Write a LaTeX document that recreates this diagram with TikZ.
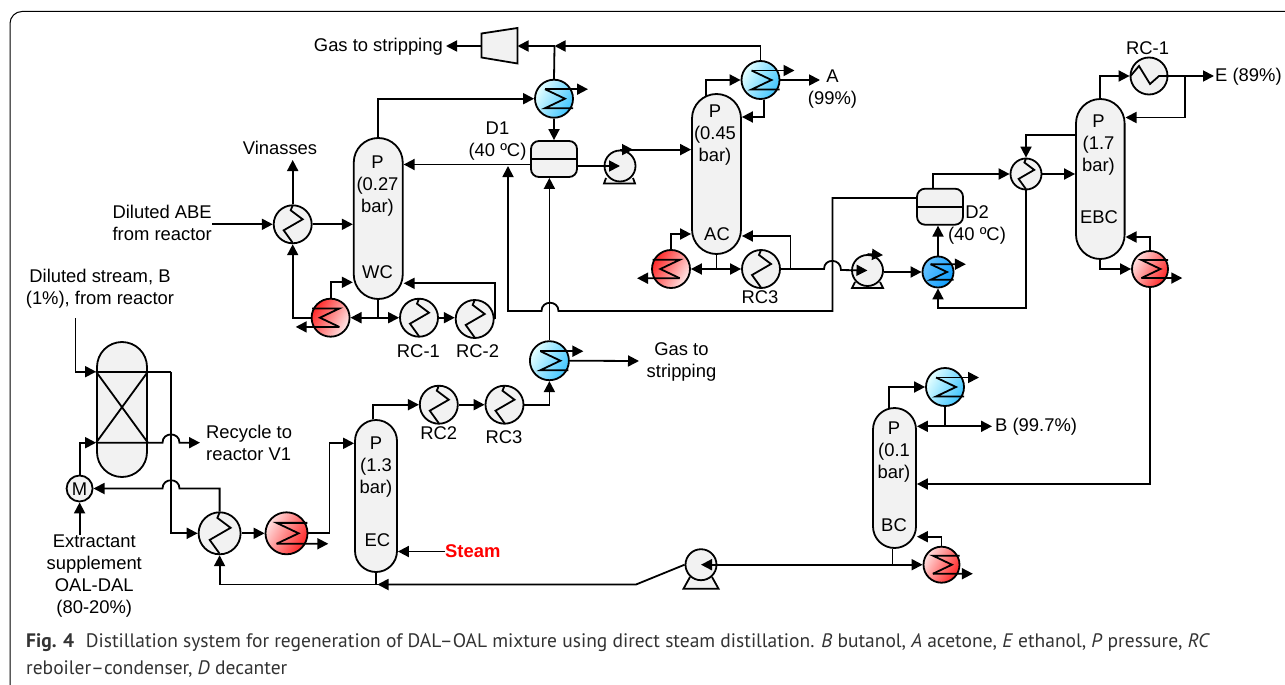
\documentclass[tikz,border=0pt]{standalone}
\usepackage{fontspec}
\setmainfont{Liberation Sans}
\newfontfamily\capfont{PT Sans}
\usetikzlibrary{calc, arrows.meta}
\definecolor{boxgray}{HTML}{F2F2F2}
\definecolor{capgray}{HTML}{333333}
\tikzset{
	pipe/.style={line width=1.8pt},
	flow/.style={line width=1.8pt, -{Triangle[length=11pt,width=11pt]}},
	flowboth/.style={line width=1.8pt, {Triangle[length=11pt,width=11pt]}-{Triangle[length=11pt,width=11pt]}},
	unit/.style={draw, line width=1.8pt, fill=boxgray, inner sep=0pt},
	column/.style={unit, rectangle, rounded corners=#1, minimum width=2*#1},
	decanter/.style={unit, rectangle, rounded corners=8pt, minimum width=46pt, minimum height=36pt},
	exch/.style={unit, circle, minimum size=2*#1},
	coolA/.style={draw, line width=1.8pt, circle, inner sep=0pt, minimum size=38pt, left color=blue!0!cyan!10!white, right color=cyan!70!blue!75!white, shading angle=60},
	coolB/.style={draw, line width=1.8pt, circle, inner sep=0pt, minimum size=31pt, left color=cyan!60!blue!60!white, right color=cyan!60!blue!95!white, shading angle=60},
	heatA/.style={draw, line width=1.8pt, circle, inner sep=0pt, minimum size=2*#1, left color=red!12!white, right color=red!85!white, shading angle=60},
	heatB/.style={draw, line width=1.8pt, circle, inner sep=0pt, minimum size=38pt, left color=red!85!white, right color=red!8!white, shading angle=60},
	txt/.style={inner sep=0pt, align=center, yshift=-0.5pt, font=\fontsize{18.4}{22}\selectfont}
}

\begin{document}
\begin{tikzpicture}[x=1pt, y=-1pt]
	\useasboundingbox (0,0) rectangle (1285,685);
	\fill[white] (0,0) rectangle (1285,685);
	\draw[line width=1pt, rounded corners=12pt] (1285,11.5) -- (10,11.5) -- (10,685);

	\node[column=24.5pt, minimum height=161pt] (wc) at (378.25,218.5) {};
	\node[column=24.5pt, minimum height=160pt] (ac) at (716.5,174) {};
	\node[column=24.3pt, minimum height=160pt] (ebc) at (1100.3,179) {};
	\node[column=21pt, minimum height=152pt] (ec) at (376,496) {};
	\node[column=21.5pt, minimum height=140pt] (bc) at (894.5,478) {};
	\node[column=25pt, minimum height=135pt] (ext) at (122,409.5) {};
	\draw[line width=1.8pt] (ext.west |- 0,371.7) -- (ext.east |- 0,442.7);
	\draw[line width=1.8pt] (ext.east |- 0,371.7) -- (ext.west |- 0,442.7);

	\node[decanter] (dA) at (554,159) {};
	\node[decanter] (dB) at (940,206.7) {};
	\draw[line width=1.8pt] (dA.west) -- (dA.east);
	\draw[line width=1.8pt] (dB.west) -- (dB.east);

	\node[exch=19pt] (hxA) at (292.7,224.3) {};
	\node[exch=15.5pt] (hxB) at (1026,174) {};
	\node[exch=21pt] (hxC) at (219.6,533.3) {};
	\node[exch=19pt] (rcA) at (419,317.7) {};
	\node[exch=19pt] (rcB) at (474.7,319) {};
	\node[exch=19pt] (rcC) at (761,269) {};
	\node[exch=19pt] (rcD) at (438.8,404.7) {};
	\node[exch=19pt] (rcE) at (504.5,404.7) {};
	\node[exch=18.5pt] (rcF) at (1149,76) {};

	\node[coolA] (cA) at (554,98.7) {};
	\node[coolA] (cB) at (760.5,80) {};
	\node[coolA, minimum size=39pt] (cC) at (549.4,360.7) {};
	\node[coolB] (cD) at (938,272) {};
	\node[coolA] (cE) at (945,387) {};

	\node[heatB] (rA) at (330.6,317.7) {};
	\node[heatB] (rB) at (671,269) {};
	\node[heatA=21pt] (rC) at (286.5,533.3) {};
	\node[heatA=18pt] (rD) at (1150,269) {};
	\node[heatA=18pt] (rE) at (941.5,564.7) {};

	\draw[line width=1.8pt, fill=boxgray] (606,178) -- (604,183.5) -- (635,183.5) -- (633,178);
	\draw[line width=1.8pt, fill=boxgray] (855,282) -- (852,288) -- (883,288) -- (880,282);
	\draw[line width=1.8pt, fill=boxgray] (690,577) -- (683.5,588.7) -- (718.5,588.7) -- (712,577);
	\node[exch=15.5pt] (pA) at (620,166) {};
	\node[exch=15.5pt] (pB) at (867.5,270.5) {};
	\node[exch=15.5pt] (pC) at (701,564.7) {};
	\node[unit, circle, minimum size=26pt] (mix) at (79.6,488.5) {};
	\node[txt] (mixT) at (mix) {M};

	\draw[line width=1.8pt, fill=boxgray] (481.5,33.5) -- (517.5,28) -- (517.5,63.5) -- (481.5,57.5) -- cycle;
	\coordinate (compIn) at (517.5,46);
	\coordinate (compOut) at (481.5,46);

	\foreach \n/\s in {hxA/1,hxB/.82,hxC/1.1,rcA/1,rcB/1,rcC/1,rcD/1,rcE/1}
	{
		\begin{scope}[shift={(\n)}, scale=\s]
			\draw[line width=1.8pt] (0,-19) -- (-2,-14) -- (10,-5) -- (-9,6) -- (0,18.5);
		\end{scope}
	}

	\begin{scope}[shift={(rcF)}]
		\draw[line width=1.8pt] (-18.5,0) -- (-10,-10) -- (1,8) -- (10,0) -- (18.5,0);
	\end{scope}

	\foreach \n/\s in {cA/1,cB/1,cC/1,cD/.82,cE/1}
	{
		\begin{scope}[shift={(\n)}, scale=\s]
			\coordinate (\n tip) at (34,-9.5);
			\draw[line width=1.8pt] (-9,-9.5) -- (11,0) -- (-9,9.5) -- (19,9.5);
			\draw[flow] (-9,-9.5) -- (\n tip);
		\end{scope}
	}

	\foreach \n/\s/\m/\t in {rA/.97/-1/36,rB/.97/-1/35,rC/1.1/1/38,rD/.95/1/34,rE/.95/1/33}
	{
		\begin{scope}[shift={(\n)}, xscale=\m, scale=\s]
			\coordinate (\n tip) at (\t,9.5);
			\draw[line width=1.8pt] (-9,9.5) -- (11,0) -- (-9,-9.5) -- (19,-9.5);
			\draw[flow] (-9,9.5) -- (\n tip);
		\end{scope}
	}

	\node[txt, anchor=east] (gasA) at (443,46) {Gas to stripping};
	\node[txt] (vin) at (280,147) {Vinasses};
	\node[txt, anchor=east, align=right] (dil) at (212,222.8) {Diluted ABE\\from reactor};
	\node[txt] (dstr) at (100,288) {Diluted stream, B\\(1\%), from reactor};
	\node[txt] (dA1) at (497.5,141) {D1\\(40 ºC)};
	\node[txt] (dB1) at (977,224) {D2\\(40 ºC)};
	\node[txt] (aT) at (832.5,89) {A\\(99\%)};
	\node[txt, anchor=west] (eT) at (1215,76) {E (89\%)};
	\node[txt, anchor=west] (bT) at (995,426) {B (99.7\%)};
	\node[txt] (gasB) at (681.5,361) {Gas to\\stripping};
	\node[txt, anchor=west, align=left] (rec) at (206,442) {Recycle to\\reactor V1};
	\node[txt] (extT) at (94.3,576) {Extractant\\supplement\\OAL-DAL\\(80-20\%)};
	\node[txt, anchor=west, text=red, font=\fontsize{18.4}{22}\selectfont\bfseries] (steam) at (445,551) {Steam};

	\node[txt] (wcT) at (377.5,186) {P\\(0.27\\bar)};
	\node[txt] (wcN) at (377.5,271.7) {WC};
	\node[txt] (acT) at (715,135) {P\\(0.45\\bar)};
	\node[txt] (acN) at (717,234) {AC};
	\node[txt] (ebcT) at (1098.5,145) {P\\(1.7\\bar)};
	\node[txt] (ebcN) at (1099,216.7) {EBC};
	\node[txt] (ecT) at (376,466.7) {P\\(1.3\\bar)};
	\node[txt] (ecN) at (377.5,540) {EC};
	\node[txt] (bcT) at (894,452) {P\\(0.1\\bar)};
	\node[txt] (bcN) at (894,525) {BC};

	\node[txt] (rcAT) at (418.4,351) {RC-1};
	\node[txt] (rcBT) at (477.6,351) {RC-2};
	\node[txt] (rcCT) at (760,296.7) {RC3};
	\node[txt] (rcDT) at (438.8,433) {RC2};
	\node[txt] (rcET) at (504,436.7) {RC3};
	\node[txt] (rcFT) at (1147.6,47.7) {RC-1};

	\node[inner sep=0pt, anchor=north west, align=left, text=capgray, font=\capfont\fontsize{19.5}{26.5}\selectfont] (capT) at (26,633.5) {\textbf{Fig. 4}\hspace{0.6em}Distillation system for regeneration of DAL–OAL mixture using direct steam distillation. \textit{B} butanol, \textit{A} acetone, \textit{E} ethanol, \textit{P} pressure, \textit{RC}\\reboiler–condenser, \textit{D} decanter};

	\coordinate (topTee) at (554.5,46);
	\coordinate (gasOut) at (446,46);
	\coordinate (vinOut) at (292.7,160);
	\coordinate (feedIn) at (75.5,318);
	\coordinate (aOut) at (820,80);
	\coordinate (eOut) at (1214,76);
	\coordinate (bOut) at (992,426.3);
	\coordinate (gasCOut) at (639,361);
	\coordinate (recOut) at (200,442.7);
	\coordinate (ecTee) at (377.5,584.5);

	\draw[flow] (compOut) -- (gasOut);
	\draw[flow] (cB.north) |- (topTee);
	\draw[flow] (topTee) -- (compIn);
	\draw[pipe] (cA.north) -- (topTee);

	\draw[flow] (wc.north) |- (cA.west);
	\draw[flow] (cA.south) -- (dA.north);
	\draw[flow] (dA.west |- 0,164.5) -- (wc.east |- 0,164.5);
	\draw[flow] (cC.north) -- (cC.north |- dA.south);
	\draw[flow] (dB.west |- 0,198) -- (832.5,198) -- (832.5,311) -- (558.5,311) .. controls (558.5,300) and (541.5,300) .. (541.5,311) -- (508,311) -- (508,166);
	\draw[flow] (dA.east |- pA) -- (pA.center);
	\draw[flow] (pA.north) -- (ac.west |- pA.north);
	\draw[flow] (pA.north) -- +(13,0);

	\draw[flow] (dil.east |- hxA.west) -- (hxA.west);
	\draw[flow] (hxA.east) -- (wc.west |- hxA.east);
	\draw[flow] (hxA.north) -- (vinOut);
	\draw[flow] (rA.west) -| (hxA.south);
	\draw[flow] (rA.north) |- (wc.west |- 0,282.3);
	\draw[flowboth] (rA.east) -- (rcA.west);
	\draw[pipe] (wc.south) -- (wc.south |- rA.east);
	\draw[flow] (rcA.east) -- (rcB.west |- rcA.east);
	\draw[flow] (rcB.east) |- (wc.east |- 0,283.3);

	\draw[flow] ($(ac.north)+(-10.5,2.5)$) |- (cB.west);
	\draw[flow] (cB.east) -- (aOut);
	\draw[flow] ($(cB.south)+(3.5,-0.3)$) |- (ac.east |- 0,117);
	\draw[flow] (rB.north) |- (ac.west |- 0,234);
	\draw[flowboth] (rB.east) -- (rcC.west);
	\draw[pipe] (ac.south) -- (ac.south |- rB.east);
	\draw[flow] (790.5,269) |- (ac.east |- 0,236);
	\draw[flow] (rcC.east) -- (824,269) .. controls (824,258) and (841,258) .. (841,270) -- (pB.center);
	\draw[flow] (pB.north) -- +(15.5,1);
	\draw[flow] (pB.east |- cD.west) -- (cD.west);
	\draw[flow] (cD.north) -- (cD.north |- dB.south);

	\draw[flow] ($(dB.north)+(-7,0)$) |- (hxB.west);
	\draw[flow] (hxB.east) -- (ebc.west |- hxB.east);
	\draw[flow] (ebc.west |- 0,135) -| (hxB.north);
	\draw[flow] (hxB.south) -- (hxB.south |- 0,308) -| (cD.south);
	\draw[flow] (ebc.north) |- (rcF.west);
	\draw[flow] (rcF.east) -- (eOut);
	\draw[flow] (1185,76) |- (ebc.east |- 0,117.5);
	\draw[flow] (ebc.south) |- (rD.west);
	\draw[flow] (rD.north) |- (ebc.east |- 0,237);
	\draw[flow] (rD.south) |- (bc.east |- 0,484);

	\draw[flow] ($(bc.north)+(-5.5,0.8)$) |- (cE.west);
	\draw[pipe] (cE.south) -- (cE.south |- bOut);
	\draw[flowboth] (bc.east |- bOut) -- (bOut);
	\draw[flow] (rE.north) |- (bc.east |- 0,536.7);
	\draw[pipe] ($(bc.south)+(-2,0)$) -- ($(bc.south |- rE.west)+(-2,0)$);
	\draw[flowboth] (pC.center) -- (rE.west);

	\draw[flow] (pC.west) -- (636,584.5) -- (ecTee);
	\draw[flow] (ecTee) -| (hxC.south);
	\draw[pipe] (ec.south) -- (ec.south |- ecTee);
	\draw[flow] (steam.west) -- (ec.east |- steam.west);
	\draw[flow] ($(ec.north)+(-3,0.3)$) |- (rcD.west);
	\draw[flow] (rcD.east) -- (rcE.west);
	\draw[flow] (rcE.east) -| (cC.south);
	\draw[flow] (cC.east) -- (gasCOut);

	\draw[flow] (feedIn) |- (ext.west |- 0,371.7);
	\draw[pipe] (ext.west |- 0,371.7) -- (170.6,371.7);
	\draw[flow] (170.6,371.7) |- (hxC.west);
	\draw[flow] (ext.west |- 0,442.7) -- (162.5,442.7) .. controls (162.5,431.7) and (179.5,431.7) .. (179.5,442.7) -- (recOut);
	\draw[flow] (mix.north) |- (ext.west |- 0,442.7);
	\draw[flow] (hxC.north) -- (219.6,488.5) -- (179.5,488.5) .. controls (179.5,477.5) and (162.5,477.5) .. (162.5,488.5) -- (mix.east);
	\draw[flow] (mix.south |- extT.north) -- (mix.south);
	\draw[flow] (hxC.east) -- (rC.west);
	\draw[flow] (rC.east) -- (329.4,533.3) |- (ec.west |- 0,443.3);
\end{tikzpicture}
\end{document}
